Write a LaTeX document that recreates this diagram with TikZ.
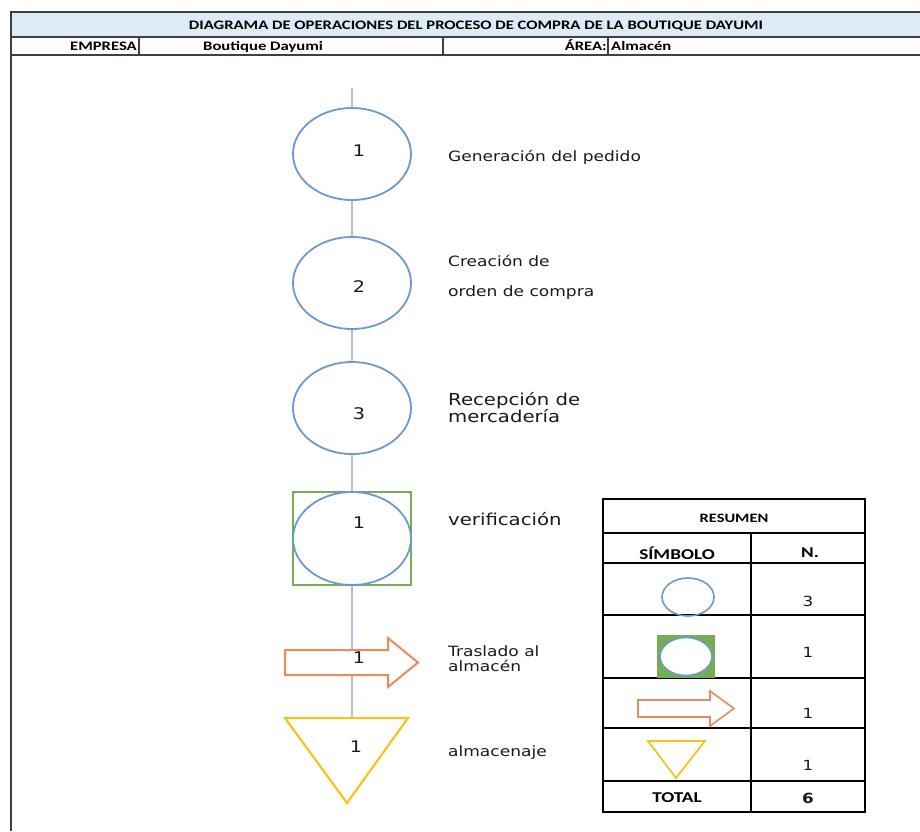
\documentclass[tikz,border=0pt]{standalone}
\usepackage{fontspec}
\setmainfont[FakeStretch=1.2]{DejaVu Sans}
\newfontfamily\hdrfont[FakeStretch=1.28]{Carlito}
\usetikzlibrary{shapes.geometric,backgrounds}

\definecolor{frameline}{HTML}{404040}
\definecolor{titlefill}{HTML}{DDEBF7}
\definecolor{rowfill}{HTML}{FFFEFA}
\definecolor{opblue}{HTML}{6A9AD0}
\definecolor{flowblue}{HTML}{A9C5E6}
\definecolor{ckgreen}{HTML}{77AD52}
\definecolor{mvorange}{HTML}{EA8A5E}
\definecolor{styellow}{HTML}{F7C41E}
\definecolor{inktext}{HTML}{1A1A1A}

\tikzset{
  rule/.style={draw=frameline, line width=2pt},
  grid/.style={draw=black, line width=1.6pt},
  optext/.style={inner sep=0pt, text=inktext, font=\fontsize{14.2}{17}\selectfont},
  bigtext/.style={inner sep=0pt, text=inktext, font=\fontsize{16.4}{17}\selectfont},
  numtext/.style={inner sep=0pt, text=inktext, font=\fontsize{16}{17}\selectfont},
  hdrtext/.style={inner sep=0pt, font=\hdrfont\bfseries\fontsize{13}{14}\selectfont},
  tbltext/.style={inner sep=0pt, font=\hdrfont\bfseries\fontsize{15}{17}\selectfont},
  tblnum/.style={inner sep=0pt, text=inktext, font=\fontsize{14}{15}\selectfont},
  operation/.style={ellipse, draw=opblue, fill=white, line width=1.8pt,
    minimum width=118pt, minimum height=92pt, inner sep=0pt},
  checkbox/.style={rectangle, draw=ckgreen, fill=white, line width=1.8pt,
    minimum width=118pt, minimum height=93pt, inner sep=0pt},
  flowline/.style={draw=flowblue, line width=1.6pt},
  moveline/.style={draw=mvorange, fill=white, line width=2pt, line join=miter},
  storeline/.style={draw=styellow, fill=white, line width=2.2pt, line join=miter},
}

\begin{document}
\begin{tikzpicture}[x=1pt,y=-1pt]
\useasboundingbox (0,0) rectangle (920,831);

% ---- header block ----
\fill[titlefill] (11,12) rectangle (920,37);
\fill[rowfill] (11,37) rectangle (920,55);
\draw[rule] (920,12) -- (11,12) -- (11,831);
\draw[rule] (11,37) -- (920,37);
\draw[rule] (11,55) -- (920,55);
\draw[rule] (139,37) -- (139,55);
\draw[rule] (443,37) -- (443,55);
\draw[rule] (608,37) -- (608,55);

\node[hdrtext, anchor=base] (title) at (476,29)
  {DIAGRAMA DE OPERACIONES DEL PROCESO DE COMPRA DE LA BOUTIQUE DAYUMI};
\node[hdrtext, anchor=base east] (empresa) at (137,50) {EMPRESA};
\node[hdrtext, anchor=base west] (empname) at (203,50) {Boutique Dayumi};
\node[hdrtext, anchor=base east] (area) at (607,50) {ÁREA:};
\node[hdrtext, anchor=base west] (areaname) at (611,50) {Almacén};

% ---- process chart ----
\coordinate (start) at (352,88);
\node[operation] (c1) at (352,154) {};
\node[operation] (c2) at (352,283) {};
\node[operation] (c3) at (352,408) {};
\node[checkbox] (chk) at (352,538.5) {};
\node[operation, minimum height=93pt, fill=none] (chkc) at (352,538.5) {};
\draw[moveline] (285,650) -- (388,650) -- (388,638) -- (418,662.5)
  -- (388,687) -- (388,675) -- (285,675) -- cycle;
\coordinate (sttop) at (352,718);
\draw[storeline] (285,718) -- (408,718) -- (347,803) -- cycle;

\begin{scope}[on background layer]
  \draw[flowline] (start) -- (c1);
  \draw[flowline] (c1) -- (c2);
  \draw[flowline] (c2) -- (c3);
  \draw[flowline] (c3) -- (chk);
  \draw[flowline] (chk.south) -- (sttop);
\end{scope}

\node[numtext] (n1) at (359,151) {1};
\node[numtext] (n2) at (359,287) {2};
\node[numtext] (n3) at (359,414) {3};
\node[numtext] (n4) at (359,523) {1};
\node[numtext] (n5) at (359,658) {1};
\node[numtext] (n6) at (356,747) {1};

\node[optext, anchor=base west] (l1) at (448,161) {Generación del pedido};
\node[optext, anchor=base west] (l2a) at (448,266) {Creación de};
\node[optext, anchor=base west] (l2b) at (448,296) {orden de compra};
\node[bigtext, anchor=base west] (l3a) at (448,405) {Recepción de};
\node[bigtext, anchor=base west] (l3b) at (448,422) {mercadería};
\node[bigtext, anchor=base west] (l4) at (448,525) {verificación};
\node[optext, anchor=base west] (l5a) at (448,656) {Traslado al};
\node[optext, anchor=base west] (l5b) at (448,671) {almacén};
\node[optext, anchor=base west] (l6) at (448,756) {almacenaje};

% ---- summary table ----
\draw[grid] (603,499) rectangle (865,812);
\foreach \yy in {533,563,615,678,728,781}
  \draw[grid] (603,\yy) -- (865,\yy);
\draw[grid] (751,533) -- (751,812);

\node[tbltext, font=\hdrfont\bfseries\fontsize{12.8}{14}\selectfont] (resumen) at (734,518) {RESUMEN};
\node[tbltext] (simbolo) at (677,553) {SÍMBOLO};
\node[tbltext] (nhead) at (810,553) {N.};
\node[tbltext] (total) at (677,798) {TOTAL};

\node[tblnum] (t1) at (808,601) {3};
\node[tblnum] (t2) at (808,652) {1};
\node[tblnum] (t3) at (808,713) {1};
\node[tblnum] (t4) at (808,765) {1};
\node[tblnum, font=\bfseries\fontsize{14}{15}\selectfont] (t5) at (808,798) {6};

% legend symbols
\draw[draw=opblue, line width=1.6pt] (688,597) ellipse [x radius=26, y radius=19];
\draw[draw=ckgreen, fill=ckgreen, line width=1.5pt] (658,636) rectangle (714,677);
\draw[draw=opblue, fill=white, line width=1.6pt] (686,656.5) ellipse [x radius=26, y radius=19];
\draw[moveline, line width=1.6pt] (638,700) -- (710,700) -- (710,691) -- (734,708.5)
  -- (710,726) -- (710,717) -- (638,717) -- cycle;
\draw[storeline, line width=1.8pt] (648,741) -- (705,741) -- (676,778) -- cycle;

\end{tikzpicture}
\end{document}
